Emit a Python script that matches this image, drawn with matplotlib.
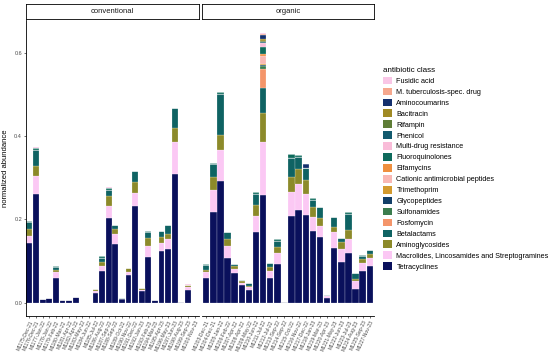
import numpy as np
import pandas as pd
import matplotlib
matplotlib.use("Agg")
import matplotlib.pyplot as plt
from matplotlib.patches import Patch

plt.rcParams["font.family"] = ["Liberation Sans", "DejaVu Sans"]

classes = [
    "Fusidic acid", "M. tuberculosis-spec. drug", "Aminocoumarins", "Bacitracin",
    "Rifampin", "Phenicol", "Multi-drug resistance", "Fluoroquinolones",
    "Elfamycins", "Cationic antimicrobial peptides", "Trimethoprim", "Glycopeptides",
    "Sulfonamides", "Fosfomycin", "Betalactams", "Aminoglycosides",
    "Macrolides, Lincosamides and Streptogramines", "Tetracyclines",
]
class_colors = [
    "#f9c6e6", "#f6a88e", "#14306e", "#a08a24",
    "#5e7d36", "#125a6e", "#f9bcd8", "#0e6b5c",
    "#ef8f3e", "#f9b8b4", "#d39a2e", "#123f68",
    "#3b7d4e", "#f4956a", "#0f6363", "#8c8a2a",
    "#fbc8f4", "#0a105c",
]

conv_samples = [
    "M1175-Dec-21", "M1176-Dec-21", "M1177-Jan-22", "M1178-Jan-22", "M1179-Feb-22",
    "M1180-Mar-22", "M1181-Apr-22", "M1182-Apr-22", "M1183-May-22", "M1184-Jun-22",
    "M1185-Jul-22", "M1186-Aug-22", "M1187-Sep-22", "M1188-Sep-22", "M1189-Oct-22",
    "M1190-Nov-22", "M1191-Dec-22", "M1192-Jan-23", "M1193-Feb-23", "M1194-Mar-23",
    "M1195-Apr-23", "M1196-May-23", "M1197-Jun-23", "M1198-Aug-23", "M1199-Sep-23",
    "M1200-Nov-23",
]
conv_tetracyclines = [0.142, 0.261, 0.008, 0.010, 0.060, 0.006, 0.006, 0.013, 0, 0,
                      0.022, 0.077, 0.204, 0.140, 0.009, 0.067, 0.231, 0.027, 0.109, 0.006,
                      0.123, 0.128, 0.309, 0.002, 0.030, 0]
conv_mls = [0.019, 0.043, 0, 0, 0.013, 0, 0, 0, 0, 0,
            0.006, 0.012, 0.029, 0.024, 0, 0.007, 0.032, 0.004, 0.026, 0,
            0.021, 0.024, 0.076, 0, 0.008, 0]
conv_aminoglycosides = [0.016, 0.024, 0, 0, 0.006, 0, 0, 0, 0, 0,
                        0.005, 0.008, 0.024, 0.013, 0, 0.008, 0.026, 0.005, 0.019, 0,
                        0.014, 0.012, 0.035, 0, 0.004, 0]
conv_betalactams = [0.016, 0.039, 0, 0, 0.007, 0, 0, 0, 0, 0,
                    0, 0.011, 0.014, 0.010, 0.002, 0, 0.027, 0, 0.015, 0,
                    0.013, 0.022, 0.048, 0, 0, 0]
conv_fluoroquinolones = [0.002, 0.004, 0, 0, 0.003, 0, 0, 0, 0, 0,
                         0, 0.003, 0.004, 0, 0, 0.002, 0, 0, 0.002, 0,
                         0, 0, 0, 0, 0, 0]
conv_fusidic = [0, 0.003, 0, 0, 0, 0, 0, 0, 0, 0,
                0, 0, 0.002, 0, 0, 0, 0, 0, 0, 0,
                0, 0, 0, 0, 0.002, 0]

org_samples = [
    "M1203-Dec-21", "M1204-Dec-21", "M1205-Jan-22", "M1206-Feb-22", "M1207-Apr-22",
    "M1208-Apr-22", "M1209-May-22", "M1210-Jun-22", "M1211-Jul-22", "M1212-Jul-22",
    "M1213-Sep-22", "M1214-Sep-22", "M1215-Oct-22", "M1216-Nov-22", "M1217-Dec-22",
    "M1218-Jan-23", "M1219-Mar-23", "M1220-Apr-23", "M1221-May-23", "M1222-Jun-23",
    "M1223-Jul-23", "M1224-Aug-23", "M1225-Sep-23", "M1227-Nov-23",
]
org_tetracyclines = [0.060, 0.218, 0.292, 0.108, 0.072, 0.041, 0.030, 0.170, 0.258, 0.059,
                     0.092, 0.002, 0.207, 0.222, 0.211, 0.171, 0.158, 0.012, 0.132, 0.097,
                     0.120, 0.033, 0.076, 0.088]
org_mls = [0.013, 0.053, 0.075, 0.028, 0.009, 0.005, 0.008, 0.039, 0.128, 0.016,
           0.026, 0, 0.059, 0.063, 0.051, 0.035, 0.027, 0.003, 0.037, 0.031,
           0.032, 0.019, 0.018, 0.019]
org_aminoglycosides = [0.005, 0.030, 0.035, 0.016, 0.007, 0.005, 0.002, 0.025, 0.069, 0.010,
                       0.016, 0, 0.035, 0.036, 0.033, 0.024, 0.018, 0, 0.013, 0.017,
                       0.022, 0.005, 0.010, 0.009]
org_betalactams = [0.012, 0.032, 0.099, 0.017, 0.005, 0.004, 0.007, 0.028, 0.062, 0.009,
                   0.013, 0, 0.047, 0.029, 0.028, 0.016, 0.027, 0.003, 0.024, 0.009,
                   0.040, 0.013, 0.008, 0.010]
org_fluoroquinolones = [0.002, 0.002, 0.005, 0, 0, 0, 0, 0.004, 0.016, 0,
                        0.005, 0, 0.009, 0.004, 0, 0.005, 0, 0, 0, 0,
                        0.003, 0, 0.002, 0]
org_aminocoumarins = [0, 0, 0, 0, 0, 0, 0, 0, 0.010, 0,
                      0, 0, 0, 0, 0.011, 0, 0, 0, 0, 0,
                      0, 0, 0, 0]

# minor classes of the tallest organic sample (M1211-Jul-22)
tall_sample = "M1211-Jul-22"
tall_minor = {
    "Fosfomycin": 0.045, "Sulfonamides": 0.006, "Glycopeptides": 0.002,
    "Trimethoprim": 0.003, "Cationic antimicrobial peptides": 0.020,
    "Elfamycins": 0.005, "Phenicol": 0.002, "Multi-drug resistance": 0.010,
    "Rifampin": 0.003, "Bacitracin": 0.005, "M. tuberculosis-spec. drug": 0.002,
    "Fusidic acid": 0.001,
}


def build_table(samples, columns):
    df = pd.DataFrame(0.0, index=samples, columns=classes)
    for name, values in columns.items():
        df[name] = values
    return df


conv = build_table(conv_samples, {
    "Tetracyclines": conv_tetracyclines,
    "Macrolides, Lincosamides and Streptogramines": conv_mls,
    "Aminoglycosides": conv_aminoglycosides,
    "Betalactams": conv_betalactams,
    "Fluoroquinolones": conv_fluoroquinolones,
    "Fusidic acid": conv_fusidic,
})
org = build_table(org_samples, {
    "Tetracyclines": org_tetracyclines,
    "Macrolides, Lincosamides and Streptogramines": org_mls,
    "Aminoglycosides": org_aminoglycosides,
    "Betalactams": org_betalactams,
    "Fluoroquinolones": org_fluoroquinolones,
    "Aminocoumarins": org_aminocoumarins,
})
for name, value in tall_minor.items():
    org.loc[tall_sample, name] = value

W, H = 550, 360
fig = plt.figure(figsize=(W / 100, H / 100), dpi=100)


def rect(x0, y0, x1, y1):
    return [x0 / W, 1 - y1 / H, (x1 - x0) / W, (y1 - y0) / H]


ymax = max(conv.sum(axis=1).max(), org.sum(axis=1).max())
ylim = (-0.05 * ymax, 1.05 * ymax)

panels = [
    ("conventional", conv, (25.5, 198.5)),
    ("organic", org, (202, 374)),
]

for i, (title, df, (x0, x1)) in enumerate(panels):
    ax = fig.add_axes(rect(x0, 20, x1, 316))
    x = np.arange(len(df))
    bottom = np.zeros(len(df))
    for name, color in zip(classes[::-1], class_colors[::-1]):
        vals = df[name].values
        ax.bar(x, vals, bottom=bottom, width=0.9, color=color,
               edgecolor="white", linewidth=0.15)
        bottom += vals
    ax.set_xlim(-0.6, len(df) - 0.4)
    ax.set_ylim(*ylim)
    ax.set_xticks(x)
    ax.set_xticklabels(df.index, rotation=65, ha="right", rotation_mode="anchor",
                       fontsize=3.6, color="#4d4d4d")
    ax.set_yticks([0, 0.2, 0.4, 0.6])
    ax.set_yticklabels(["0.0", "0.2", "0.4", "0.6"], fontsize=4, color="#4d4d4d")
    ax.tick_params(length=1.5, width=0.4, pad=1)
    for side in ["top", "right"]:
        ax.spines[side].set_visible(False)
    ax.spines["bottom"].set_linewidth(0.6)
    ax.spines["left"].set_linewidth(0.6)
    if i > 0:
        ax.spines["left"].set_visible(False)
        ax.tick_params(axis="y", left=False, labelleft=False)
    else:
        ax.set_ylabel("normalized abundance", fontsize=5.5, labelpad=4)

    strip = fig.add_axes(rect(x0, 4, x1, 19))
    strip.set_xticks([])
    strip.set_yticks([])
    for s in strip.spines.values():
        s.set_linewidth(0.6)
    strip.text(0.5, 0.5, title, ha="center", va="center", fontsize=5.5,
               color="#1a1a1a", transform=strip.transAxes)

handles = [Patch(facecolor=c, edgecolor="none") for c in class_colors]
leg = fig.legend(handles, classes, loc="upper left",
                 bbox_to_anchor=(383 / W, 1 - 67 / H), frameon=False,
                 title="antibiotic class", fontsize=5.2, title_fontsize=5.8,
                 handlelength=1.25, handleheight=1.25, labelspacing=0.37,
                 handletextpad=0.6, borderaxespad=0, borderpad=0)
leg._legend_box.align = "left"

fig.savefig("out.png", dpi=100)
